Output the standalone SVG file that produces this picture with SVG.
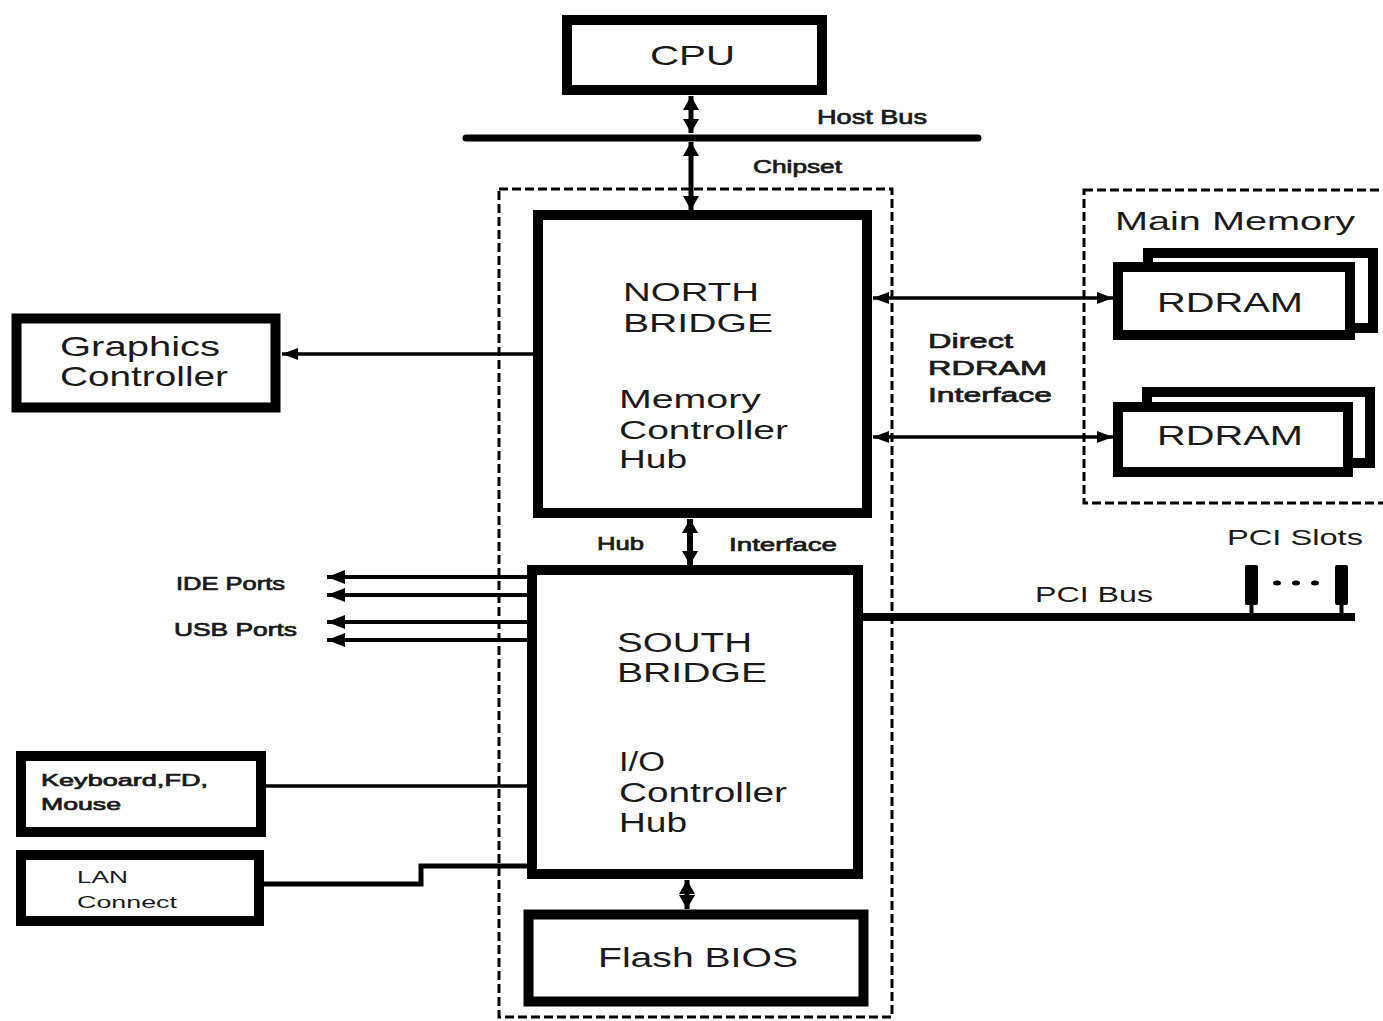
<svg xmlns="http://www.w3.org/2000/svg" width="1383" height="1021" viewBox="0 0 1383 1021">
<style>
.box{fill:#fff;stroke:#000;stroke-width:10}
.dash{fill:none;stroke:#000;stroke-width:3;stroke-dasharray:9 4}
.ln{fill:none;stroke:#000}
text{font-family:"Liberation Sans",Arial,sans-serif;fill:#1a1a1a}
.b{stroke:#1a1a1a;stroke-width:0.7}
</style>
<defs>
<marker id="av" viewBox="0 0 14 16" refX="14" refY="8" markerWidth="14" markerHeight="16" markerUnits="userSpaceOnUse" orient="auto-start-reverse"><path d="M0,0 L14,8 L0,16 z"/></marker>
<marker id="ah" viewBox="0 0 18 14" refX="18" refY="7" markerWidth="18" markerHeight="14" markerUnits="userSpaceOnUse" orient="auto-start-reverse"><path d="M0,0 L18,7 L0,14 z"/></marker>
<marker id="as" viewBox="0 0 16 12" refX="16" refY="6" markerWidth="16" markerHeight="12" markerUnits="userSpaceOnUse" orient="auto-start-reverse"><path d="M0,0 L16,6 L0,12 z"/></marker>
</defs>
<rect width="1383" height="1021" fill="#fff"/>

<g id="chipset-boundary">
<rect class="dash" x="499" y="189" width="393" height="828"/>
<text class="b" x="753" y="173" font-size="18" textLength="89" lengthAdjust="spacingAndGlyphs">Chipset</text>
</g>
<g id="main-memory-boundary">
<rect class="dash" x="1084" y="190" width="320" height="313"/>
<text x="1115" y="230" font-size="25" textLength="240" lengthAdjust="spacingAndGlyphs">Main Memory</text>
</g>

<g id="connectors">
<line class="ln" x1="466" y1="138" x2="978" y2="138" stroke-width="7" stroke-linecap="round"/>
<text class="b" x="817" y="124" font-size="19.5" textLength="110" lengthAdjust="spacingAndGlyphs">Host Bus</text>
<line class="ln" x1="691" y1="96" x2="691" y2="133" stroke-width="5" marker-start="url(#av)" marker-end="url(#av)"/>
<line class="ln" x1="691" y1="142" x2="691" y2="210" stroke-width="5" marker-start="url(#av)" marker-end="url(#av)"/>
<line class="ln" x1="533" y1="354" x2="282" y2="354" stroke-width="3.5" marker-end="url(#as)"/>
<line class="ln" x1="873" y1="298" x2="1113" y2="298" stroke-width="3.5" marker-start="url(#as)" marker-end="url(#as)"/>
<line class="ln" x1="873" y1="437" x2="1113" y2="437" stroke-width="3.5" marker-start="url(#as)" marker-end="url(#as)"/>
<text class="b" x="928" y="348" font-size="21" textLength="85" lengthAdjust="spacingAndGlyphs">Direct</text>
<text class="b" x="928" y="375" font-size="21" textLength="119" lengthAdjust="spacingAndGlyphs">RDRAM</text>
<text class="b" x="928" y="402" font-size="21" textLength="124" lengthAdjust="spacingAndGlyphs">Interface</text>
<line class="ln" x1="690" y1="519" x2="690" y2="565" stroke-width="6" marker-start="url(#av)" marker-end="url(#av)"/>
<text class="b" x="597" y="550" font-size="19" textLength="47" lengthAdjust="spacingAndGlyphs">Hub</text>
<text class="b" x="729" y="551" font-size="19" textLength="108" lengthAdjust="spacingAndGlyphs">Interface</text>
<line class="ln" x1="527" y1="577" x2="327" y2="577" stroke-width="4" marker-end="url(#ah)"/>
<line class="ln" x1="527" y1="595" x2="327" y2="595" stroke-width="4" marker-end="url(#ah)"/>
<line class="ln" x1="527" y1="622" x2="327" y2="622" stroke-width="4" marker-end="url(#ah)"/>
<line class="ln" x1="527" y1="640" x2="327" y2="640" stroke-width="4" marker-end="url(#ah)"/>
<text class="b" x="176" y="590" font-size="18" textLength="109" lengthAdjust="spacingAndGlyphs">IDE Ports</text>
<text class="b" x="174" y="636" font-size="18" textLength="123" lengthAdjust="spacingAndGlyphs">USB Ports</text>
<line class="ln" x1="863" y1="617" x2="1355" y2="617" stroke-width="8"/>
<text x="1035" y="602" font-size="22" textLength="118" lengthAdjust="spacingAndGlyphs">PCI Bus</text>
<line class="ln" x1="266" y1="786" x2="527" y2="786" stroke-width="3.5"/>
<polyline class="ln" points="264,884 421,884 421,866 527,866" stroke-width="5"/>
<line class="ln" x1="687" y1="880" x2="687" y2="909" stroke-width="5" marker-start="url(#av)" marker-end="url(#av)"/>
</g>

<g id="pci-slots">
<rect x="1245" y="565" width="13" height="40" rx="2" fill="#000"/>
<rect x="1249.5" y="600" width="4" height="17" fill="#000"/>
<rect x="1335" y="565" width="13" height="40" rx="2" fill="#000"/>
<rect x="1339.5" y="600" width="4" height="17" fill="#000"/>
<ellipse cx="1277" cy="583" rx="4" ry="2.5" fill="#000"/>
<ellipse cx="1296" cy="583" rx="4" ry="2.5" fill="#000"/>
<ellipse cx="1315" cy="583" rx="4" ry="2.5" fill="#000"/>
<text x="1227" y="545" font-size="22" textLength="136" lengthAdjust="spacingAndGlyphs">PCI Slots</text>
</g>

<g id="cpu">
<rect class="box" x="567" y="20" width="255" height="70"/>
<text x="650" y="65" font-size="28" textLength="85" lengthAdjust="spacingAndGlyphs">CPU</text>
</g>

<g id="north-bridge">
<rect class="box" x="538" y="215" width="329" height="298"/>
<text x="623" y="301" font-size="26.5" textLength="136" lengthAdjust="spacingAndGlyphs">NORTH</text>
<text x="623" y="332" font-size="26.5" textLength="150" lengthAdjust="spacingAndGlyphs">BRIDGE</text>
<text x="619" y="408" font-size="26" textLength="142" lengthAdjust="spacingAndGlyphs">Memory</text>
<text x="619" y="439" font-size="26" textLength="169" lengthAdjust="spacingAndGlyphs">Controller</text>
<text x="619" y="468" font-size="26" textLength="68" lengthAdjust="spacingAndGlyphs">Hub</text>
</g>

<g id="graphics-controller">
<rect class="box" x="16.5" y="318.5" width="259" height="89" stroke-width="11"/>
<text x="60" y="356" font-size="28" textLength="160" lengthAdjust="spacingAndGlyphs">Graphics</text>
<text x="60" y="386" font-size="28" textLength="168" lengthAdjust="spacingAndGlyphs">Controller</text>
</g>

<g id="rdram-1">
<rect class="box" x="1148" y="253" width="225" height="75"/>
<rect class="box" x="1118" y="267" width="232" height="68"/>
<text x="1157" y="312" font-size="28" textLength="146" lengthAdjust="spacingAndGlyphs">RDRAM</text>
</g>

<g id="rdram-2">
<rect class="box" x="1147" y="392" width="223" height="71"/>
<rect class="box" x="1118" y="407" width="230" height="65"/>
<text x="1157" y="445" font-size="28" textLength="146" lengthAdjust="spacingAndGlyphs">RDRAM</text>
</g>

<g id="south-bridge">
<rect class="box" x="532" y="570" width="326" height="304"/>
<text x="617" y="652" font-size="27" textLength="135" lengthAdjust="spacingAndGlyphs">SOUTH</text>
<text x="617" y="682" font-size="27" textLength="150" lengthAdjust="spacingAndGlyphs">BRIDGE</text>
<text x="619" y="771" font-size="27" textLength="46" lengthAdjust="spacingAndGlyphs">I/O</text>
<text x="619" y="802" font-size="27" textLength="168" lengthAdjust="spacingAndGlyphs">Controller</text>
<text x="619" y="832" font-size="27" textLength="68" lengthAdjust="spacingAndGlyphs">Hub</text>
</g>

<g id="keyboard-fd-mouse">
<rect class="box" x="21" y="756" width="240" height="76"/>
<text class="b" x="41" y="786" font-size="17" textLength="167" lengthAdjust="spacingAndGlyphs">Keyboard,FD,</text>
<text class="b" x="41" y="810" font-size="17" textLength="80" lengthAdjust="spacingAndGlyphs">Mouse</text>
</g>

<g id="lan-connect">
<rect class="box" x="21" y="855" width="238" height="66"/>
<text x="77" y="883" font-size="17" textLength="51" lengthAdjust="spacingAndGlyphs">LAN</text>
<text x="77" y="908" font-size="17" textLength="100" lengthAdjust="spacingAndGlyphs">Connect</text>
</g>

<g id="flash-bios">
<rect class="box" x="528.5" y="914.5" width="335" height="87" stroke-width="11"/>
<text x="598" y="967" font-size="28" textLength="200" lengthAdjust="spacingAndGlyphs">Flash BIOS</text>
</g>
</svg>
